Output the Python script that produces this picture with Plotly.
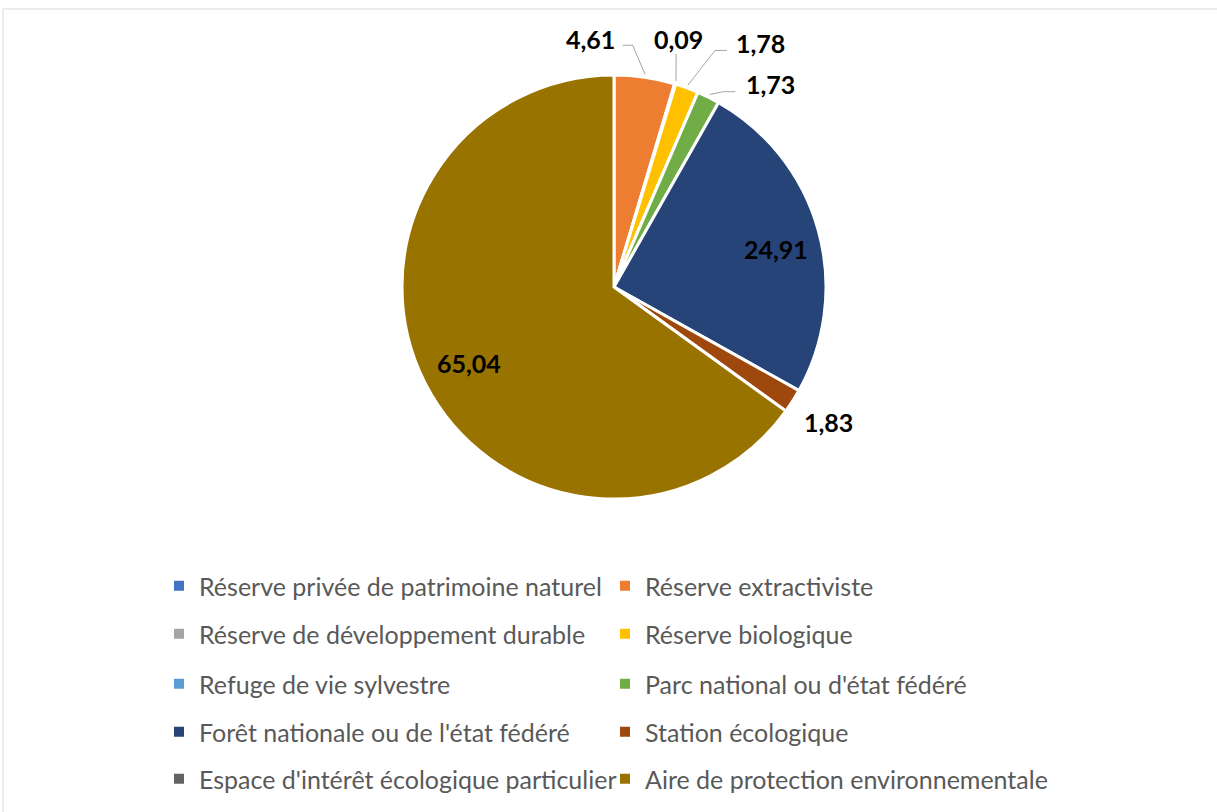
import math
import plotly.graph_objects as go

# ---- data ----
categories = [
    "Réserve privée de patrimoine naturel",
    "Réserve extractiviste",
    "Réserve de développement durable",
    "Réserve biologique",
    "Refuge de vie sylvestre",
    "Parc national ou d'état fédéré",
    "Forêt nationale ou de l'état fédéré",
    "Station écologique",
    "Espace d'intérêt écologique particulier",
    "Aire de protection environnementale",
]
values = [0, 4.61, 0.09, 1.78, 0, 1.73, 24.91, 1.83, 0, 65.04]
value_labels = ["", "4,61", "0,09", "1,78", "", "1,73", "24,91", "1,83", "", "65,04"]

colors = ["#4472C4", "#ED7D31", "#A5A5A5", "#FFC000", "#5B9BD5",
          "#70AD47", "#264478", "#9E480E", "#636363", "#997300"]

# ---- layout geometry (pixels) ----
W, H = 1217, 812
CX, CY, R = 614, 287, 212

# label offset from slice edge midpoint (px), and leader elbow / end relative to label centre
label_offset = {1: (-54, -39), 2: (3, -46), 3: (74, -46), 5: (62, -14),
                6: (-42, 18), 7: (36, 20), 9: (44, -22)}
leaders = {1: [(42, 7), (32, 7)], 2: [(-2, 16)], 3: [(-46, 8.5), (-34, 8.5)],
           5: [(-47, 8.5), (-35, 8.5)]}


def px(x, y):
    return x / W, 1 - y / H


fig = go.Figure()
fig.add_trace(go.Pie(
    labels=categories, values=values, sort=False, direction="clockwise",
    rotation=0, textinfo="none", showlegend=False, hoverinfo="label+value",
    marker=dict(colors=colors, line=dict(color="white", width=3)),
    domain=dict(x=[(CX - R) / W, (CX + R) / W], y=[1 - (CY + R) / H, 1 - (CY - R) / H]),
))

total = sum(values)
cum = 0.0
shapes = []
annotations = []
for i, v in enumerate(values):
    mid = (cum + v / 2) / total * 2 * math.pi
    cum += v
    if not value_labels[i]:
        continue
    ex, ey = CX + R * math.sin(mid), CY - R * math.cos(mid)
    dx, dy = label_offset[i]
    lx, ly = ex + dx, ey + dy
    xp, yp = px(lx, ly + 1)
    annotations.append(dict(x=xp, y=yp, xref="paper", yref="paper", text="<b>%s</b>" % value_labels[i],
                            showarrow=False, font=dict(family="Lato", size=25, color="black"),
                            xanchor="center", yanchor="middle"))
    if i in leaders:
        sx, sy = CX + (R + 3) * math.sin(mid), CY - (R + 3) * math.cos(mid)
        pts = [(sx, sy)] + [(lx + a, ly + b) for a, b in leaders[i]]
        path = "M " + " L ".join("%f,%f" % px(x, y) for x, y in pts)
        shapes.append(dict(type="path", xref="paper", yref="paper", path=path,
                           line=dict(color="#A6A6A6", width=1)))

# chart border
shapes.append(dict(type="rect", xref="paper", yref="paper", x0=3 / W, x1=1.01, y0=-0.01, y1=1 - 9 / H,
                   line=dict(color="#D9D9D9", width=1)))

# legend: five rows of two entries
row_y = [586, 634, 684, 732, 779]
legend_layout = {}
for i, name in enumerate(categories):
    row = i // 2
    lname = "legend" if row == 0 else "legend%d" % (row + 1)
    fig.add_trace(go.Scatter(x=[None], y=[None], mode="markers", name=name,
                             marker=dict(symbol="square", size=10, color=colors[i]),
                             legend=lname, showlegend=True, hoverinfo="skip"))
for row, yy in enumerate(row_y):
    lname = "legend" if row == 0 else "legend%d" % (row + 1)
    legend_layout[lname] = dict(
        orientation="h", x=159 / W, xanchor="left", y=1 - yy / H, yanchor="middle",
        entrywidth=401, entrywidthmode="pixels", bgcolor="rgba(0,0,0,0)",
        font=dict(family="Lato", size=25, color="#595959"), itemclick=False,
    )

fig.update_layout(
    width=W, height=H, margin=dict(l=0, r=0, t=0, b=0),
    paper_bgcolor="white", plot_bgcolor="white",
    xaxis=dict(visible=False), yaxis=dict(visible=False),
    shapes=shapes, annotations=annotations,
    **legend_layout,
)

fig.write_html("out.html", config={"displayModeBar": False},
               post_script="document.body.style.margin='0';")
